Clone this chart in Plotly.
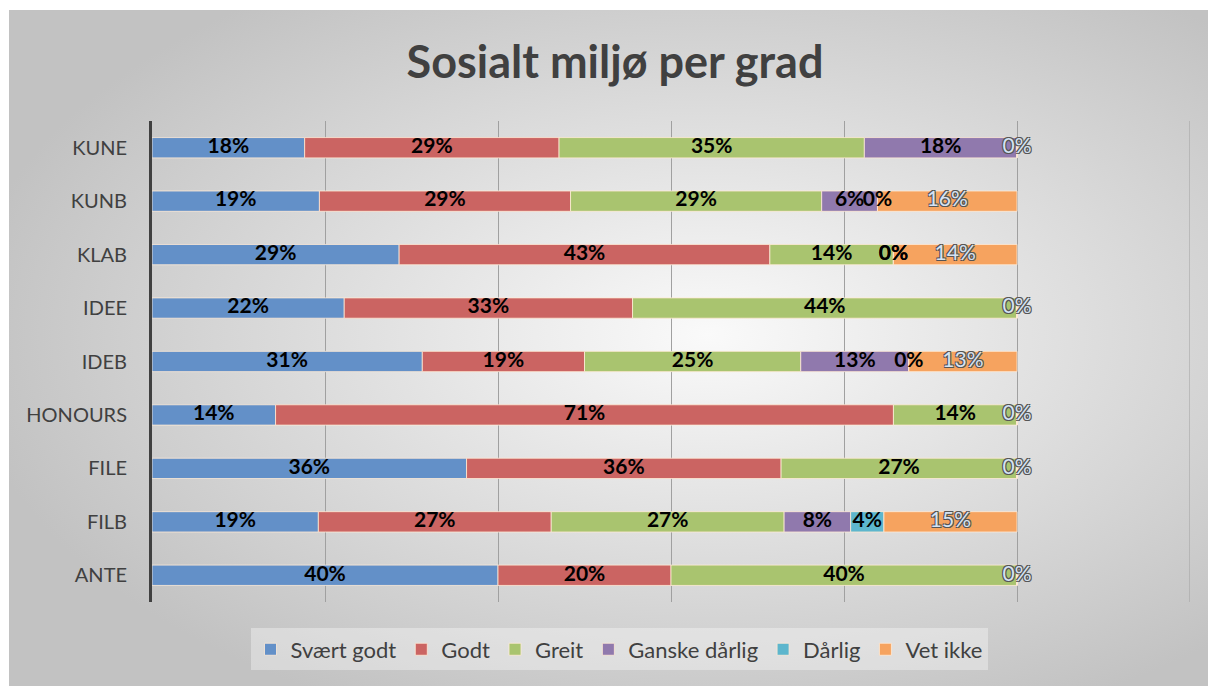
import base64
import plotly.graph_objects as go

# categories top to bottom
grades = ["KUNE", "KUNB", "KLAB", "IDEE", "IDEB", "HONOURS", "FILE", "FILB", "ANTE"]

# answer counts per grade (None = no value in the sheet)
svaert_godt = [3, 6, 2, 2, 5, 1, 4, 5, 2]
godt = [5, 9, 3, 3, 3, 5, 4, 7, 1]
greit = [6, 9, 1, 4, 4, 1, 3, 7, 2]
ganske_darlig = [3, 2, 0, None, 2, None, None, 2, None]
darlig = [None, 0, 0, None, 0, None, None, 1, None]
vet_ikke = [0, 5, 1, 0, 2, 0, 0, 4, 0]

series = [
    ("Svært godt", svaert_godt, "#6390c8"),
    ("Godt", godt, "#cb6462"),
    ("Greit", greit, "#a9c46f"),
    ("Ganske dårlig", ganske_darlig, "#9079ad"),
    ("Dårlig", darlig, "#5db6cd"),
    ("Vet ikke", vet_ikke, "#f6a35f"),
]

totals = [sum(v[i] or 0 for _, v, _ in series) for i in range(len(grades))]

fig = go.Figure()
base = [0.0] * len(grades)
lab_x, lab_y, lab_t = [], [], []
vi_x, vi_y, vi_t = [], [], []
for name, counts, color in series:
    share = [None if c is None else c / t for c, t in zip(counts, totals)]
    fig.add_trace(go.Bar(
        name=name, y=grades, x=[s or 0 for s in share], base=list(base),
        orientation="h", marker_color=color,
        marker_line=dict(color="rgba(255,235,215,0.8)", width=1),
        hoverinfo="skip",
    ))
    for i, s in enumerate(share):
        if s is None:
            continue
        txt = f"{int(s * 100 + 0.5)}%"
        if name == "Vet ikke":
            vi_x.append(base[i] + s / 2); vi_y.append(grades[i]); vi_t.append(txt)
        else:
            lab_x.append(base[i] + s / 2); lab_y.append(grades[i]); lab_t.append(txt)
        base[i] += s

fig.add_trace(go.Scatter(
    x=lab_x, y=lab_y, text=lab_t, mode="text", showlegend=False, hoverinfo="skip",
    textfont=dict(family="Lato", size=21, color="black", weight="bold"),
))
fig.add_trace(go.Scatter(
    x=vi_x, y=vi_y, text=vi_t, mode="text", showlegend=False, hoverinfo="skip",
    textfont=dict(family="Lato", size=21, color="#d6e3f3",
                  shadow="-1px -1px 0 #555, 1px -1px 0 #555, -1px 1px 0 #555, 1px 1px 0 #555"),
))

# radial gradient background of the chart area
svg = ('<svg xmlns="http://www.w3.org/2000/svg" width="1207" height="676" '
       'preserveAspectRatio="none">'
       '<defs><radialGradient id="g" cx="58%" cy="48%" r="62%">'
       '<stop offset="0" stop-color="#fafafa"/><stop offset="1" stop-color="#c2c2c2"/>'
       '</radialGradient></defs><rect width="1207" height="676" fill="url(#g)"/></svg>')
src = "data:image/svg+xml;base64," + base64.b64encode(svg.encode()).decode()

W, H = 1208, 678
L, R, T, B = 144, 1182, 113, 594
fig.add_layout_image(dict(
    source=src, xref="paper", yref="paper",
    x=(1 - L) / (R - L), y=(B - 2) / (B - T),
    sizex=(W - 1) / (R - L), sizey=(H - 2) / (B - T),
    xanchor="left", yanchor="top", sizing="stretch", layer="below",
))

# last gridline at the end of the axis (plotly skips it at the range edge)
fig.add_vline(x=1.2, line=dict(color="#a0a0a0", width=1), layer="below")

fig.update_layout(
    width=W, height=H,
    margin=dict(l=L, r=W - R, t=T, b=H - B),
    paper_bgcolor="white", plot_bgcolor="rgba(0,0,0,0)",
    barmode="overlay", bargap=0.62,
    font=dict(family="Lato", color="#404040"),
    title=dict(text="<b>Sosialt miljø per grad</b>", x=607 / W, y=1 - 54 / H,
               xanchor="center", yanchor="middle",
               font=dict(family="Lato", size=45, color="#404040")),
    xaxis=dict(range=[0, 1.2], dtick=0.2, showticklabels=False, showgrid=True,
               gridcolor="#a0a0a0", gridwidth=1, zeroline=False, fixedrange=True),
    yaxis=dict(autorange="reversed", showline=True, linecolor="#404040", linewidth=3,
               ticks="", ticklabelstandoff=18, tickfont=dict(family="Lato", size=20, color="#404040"),
               showgrid=False),
    legend=dict(orientation="h", x=(611 - L) / (R - L), y=-0.055, xanchor="center", yanchor="top",
                bgcolor="rgba(255,255,255,0.35)", font=dict(family="Lato", size=22, color="#404040"),
                itemwidth=30, traceorder="normal"),
    showlegend=True,
)

fig.write_html("out.html")
